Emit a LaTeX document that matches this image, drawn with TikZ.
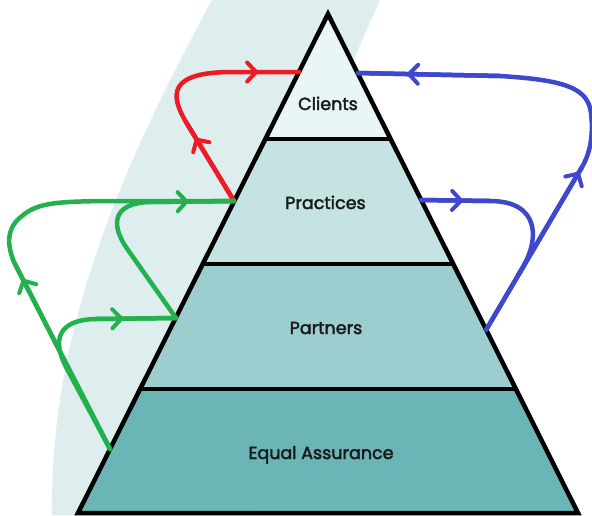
\documentclass[tikz,border=0pt]{standalone}
\usepackage{fontspec}
\setmainfont{Poppins}[FakeBold=2.3]
\usetikzlibrary{arrows.meta,decorations.markings}
\definecolor{band}{HTML}{DEEEEF}
\definecolor{lvlA}{HTML}{E8F4F5}
\definecolor{lvlB}{HTML}{C5E3E3}
\definecolor{lvlC}{HTML}{9DCECF}
\definecolor{lvlD}{HTML}{6BB5B6}
\definecolor{fred}{RGB}{237,28,36}
\definecolor{fgreen}{RGB}{34,177,76}
\definecolor{fblue}{RGB}{63,72,204}
\definecolor{txt}{HTML}{1A1A1A}
\tikzset{
  flow/.style={line width=4.5pt, line cap=round, line join=round},
  mk/.style={postaction={decorate}, decoration={markings,
      mark=at position #1 with {\arrow{Straight Barb[length=9pt,width=19pt,line width=4pt,round]}}}},
  edge/.style={line width=4.5pt, line join=miter, draw=black},
  lvltext/.style={anchor=base, text=txt, font=\fontsize{17.5}{20}\selectfont, inner sep=0pt}
}
\begin{document}
\begin{tikzpicture}[x=1pt,y=-1pt]
\useasboundingbox (0,0) rectangle (592,515);
% background band
\fill[band] (212,0) .. controls (120,170) and (50,330) .. (52,515) -- (250,515) -- (340,90) -- (380,0) -- cycle;
% pyramid layers
\fill[lvlA] (328,14) -- (265.5,139) -- (390.5,139) -- cycle;
\fill[lvlB] (265.5,139) -- (203,264) -- (453,264) -- (390.5,139) -- cycle;
\fill[lvlC] (203,264) -- (140.5,389) -- (515.5,389) -- (453,264) -- cycle;
\fill[lvlD] (140.5,389) -- (78,513) -- (578,513) -- (515.5,389) -- cycle;
\draw[edge] (265.5,139) -- (390.5,139);
\draw[edge] (203,264) -- (453,264);
\draw[edge] (140.5,389) -- (515.5,389);
\draw[edge] (328,14) -- (78,513) -- (578,513) -- cycle;
% labels
\node[lvltext] (clients) at (328,110) {Clients};
\node[lvltext] (practices) at (325.5,209) {Practices};
\node[lvltext] (partners) at (326,334) {Partners};
\node[lvltext] (equal) at (321,459) {Equal Assurance};
% connection points on the pyramid edges
\coordinate (cL) at (299,72);
\coordinate (cR) at (358,73);
\coordinate (pL) at (234,201);
\coordinate (pR) at (421,200);
\coordinate (qL) at (176,318);
\coordinate (qR) at (486,330);
\coordinate (eL) at (110,449);
% waypoints
\coordinate (r1) at (186,122);
\coordinate (r2) at (232,72);
\coordinate (g1) at (128,250);
\coordinate (g2) at (150,202);
\coordinate (g3) at (66,367);
\coordinate (g4) at (95,319);
\coordinate (g5) at (14,262);
\coordinate (g6) at (22,216);
\coordinate (g7) at (100,201);
\coordinate (b1) at (490,201);
\coordinate (b2) at (518,275);
\coordinate (b3) at (582,167);
\coordinate (b4) at (591,113);
\coordinate (b5) at (500,76);
% red
\draw[flow, fred] (pL) -- (r1) .. controls (170,95) and (168,72) .. (r2) -- (cL);
\draw[flow, fred, mk=0.8] (pL) -- (r1);
\draw[flow, fred, mk=0.39] (r2) -- (cL);
% green
\draw[flow, fgreen] (eL) -- (g5) .. controls (7,245) and (6,228) .. (g6) .. controls (38,202) and (60,202) .. (g7) -- (pL);
\draw[flow, fgreen] (eL) -- (g3) .. controls (52,340) and (58,320) .. (g4) -- (qL);
\draw[flow, fgreen] (qL) -- (g1) .. controls (110,225) and (112,203) .. (g2) -- (pL);
\draw[flow, fgreen, mk=0.91] (eL) -- (g5);
\draw[flow, fgreen, mk=0.35] (g4) -- (qL);
\draw[flow, fgreen, mk=0.46] (g2) -- (pL);
% blue
\draw[flow, fblue] (pR) -- (b1) .. controls (540,201) and (542,240) .. (b2);
\draw[flow, fblue] (qR) -- (b3) .. controls (592,150) and (593,130) .. (b4) .. controls (588,88) and (565,80) .. (b5) -- (cR);
\draw[flow, fblue, mk=0.61] (pR) -- (b1);
\draw[flow, fblue, mk=0.97] (qR) -- (b3);
\draw[flow, fblue, mk=0.655] (b5) -- (cR);
\end{tikzpicture}
\end{document}
